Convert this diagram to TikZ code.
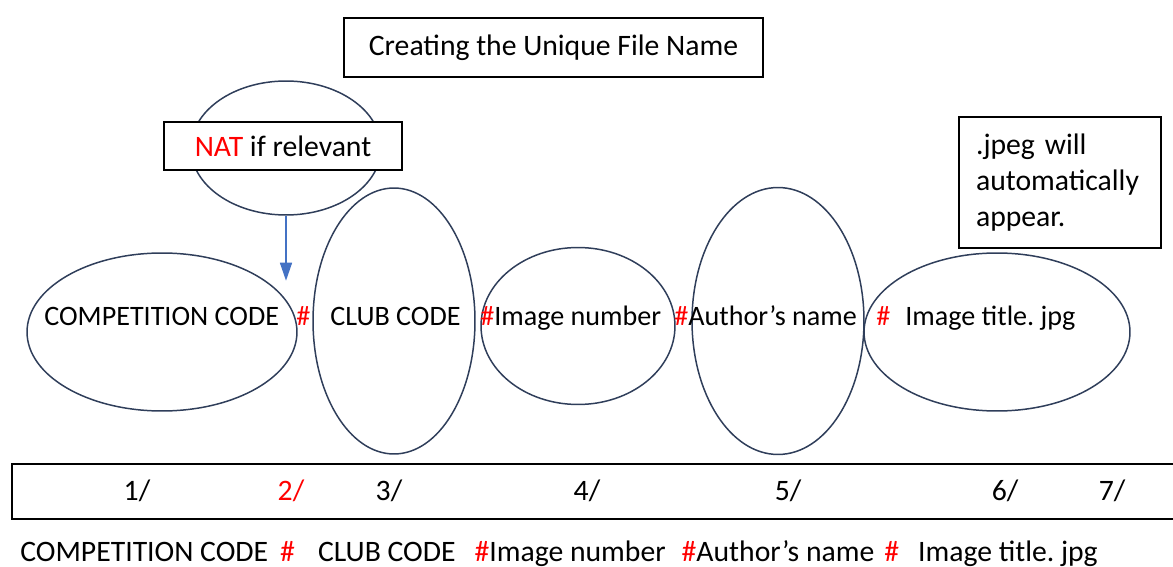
\documentclass[tikz,border=0pt]{standalone}
\usepackage{fontspec}
\setmainfont{Carlito}
\usepackage{tikz}
\usetikzlibrary{positioning,shapes.geometric,arrows.meta}
\definecolor{ovalblue}{RGB}{47,62,90}
\definecolor{arrowblue}{RGB}{68,114,196}
\definecolor{hashred}{RGB}{255,0,0}
\newcommand{\hs}{\textcolor{hashred}{\#}}
\frenchspacing

\begin{document}
\begin{tikzpicture}[x=0.02cm,y=-0.02cm,
    every node/.style={font=\fontsize{16.9}{20.4}\selectfont},
    oval/.style={draw=ovalblue,line width=0.85pt,ellipse,inner sep=0pt},
    box/.style={draw=black,line width=0.85pt,inner sep=0pt},
    lbl/.style={anchor=base west,inner sep=0pt},
    ovallbl/.style={lbl,font=\fontsize{16}{20}\selectfont},
    num/.style={anchor=base,inner sep=0pt}]
  \useasboundingbox (0,0) rectangle (1173,567);

  \node[box,minimum width=8.38cm,minimum height=1.18cm] (title) at (553.5,47.5) {Creating the Unique File Name};

  %nat
  \node[oval,minimum width=3.8cm,minimum height=2.68cm] (natell) at (286,148) {};
  \node[box,fill=white,minimum width=4.76cm,minimum height=0.96cm] (natbox) at (283,146) {\textcolor{hashred}{NAT} if relevant};
  \coordinate[below=1.3cm of natell.south] (natend);
  \draw[arrowblue,line width=0.85pt,-{Triangle[length=0.36cm,width=0.24cm]}] (natell.south) -- (natend);

  %ovals
  \node[oval,minimum width=5.4cm,minimum height=3.16cm] (comp) at (162,332) {};
  \node[oval,minimum width=3.24cm,minimum height=5.32cm] (club) at (394,321) {};
  \node[oval,minimum width=3.88cm,minimum height=3.14cm] (imgnum) at (578,326) {};
  \node[oval,minimum width=3.44cm,minimum height=5.34cm] (author) at (778,321) {};
  \node[oval,minimum width=5.32cm,minimum height=3.16cm] (imgtitle) at (997,332) {};

  \node[ovallbl] (comptext) at (44,326) {COMPETITION CODE};
  \node[ovallbl] (hashone) at (296,326) {\hs};
  \node[ovallbl] (clubtext) at (330,326) {CLUB CODE};
  \node[ovallbl] (imgnumtext) at (480,326) {\hs Image number};
  \node[ovallbl] (authortext) at (674,326) {\hs Author’s name};
  \node[ovallbl] (imgtitletext) at (876,326) {\hs\hspace{0.3cm}Image title. jpg};

  \node[box,minimum width=4.04cm,minimum height=2.62cm,text width=3.36cm,align=left,inner xsep=0.34cm] (jpgbox) at (1060,182.5) {.jpeg will\\automatically\\appear.};

  %bar
  \draw[line width=0.85pt] (1173,464) -- (12,464) -- (12,519) -- (1173,519);
  \node[num] (n1) at (137,500) {1/};
  \node[num] (n2) at (291,500) {\textcolor{hashred}{2/}};
  \node[num] (n3) at (389,500) {3/};
  \node[num] (n4) at (587,500) {4/};
  \node[num] (n5) at (788,500) {5/};
  \node[num] (n6) at (1005,500) {6/};
  \node[num] (n7) at (1112,500) {7/};

  \node[lbl] (line) at (20,561) {COMPETITION CODE\hspace{0.24cm}\hs\hspace{0.46cm}CLUB CODE\hspace{0.38cm}\hs Image number\hspace{0.32cm}\hs Author’s name\hspace{0.2cm}\hs\hspace{0.38cm}Image title. jpg};
\end{tikzpicture}
\end{document}
